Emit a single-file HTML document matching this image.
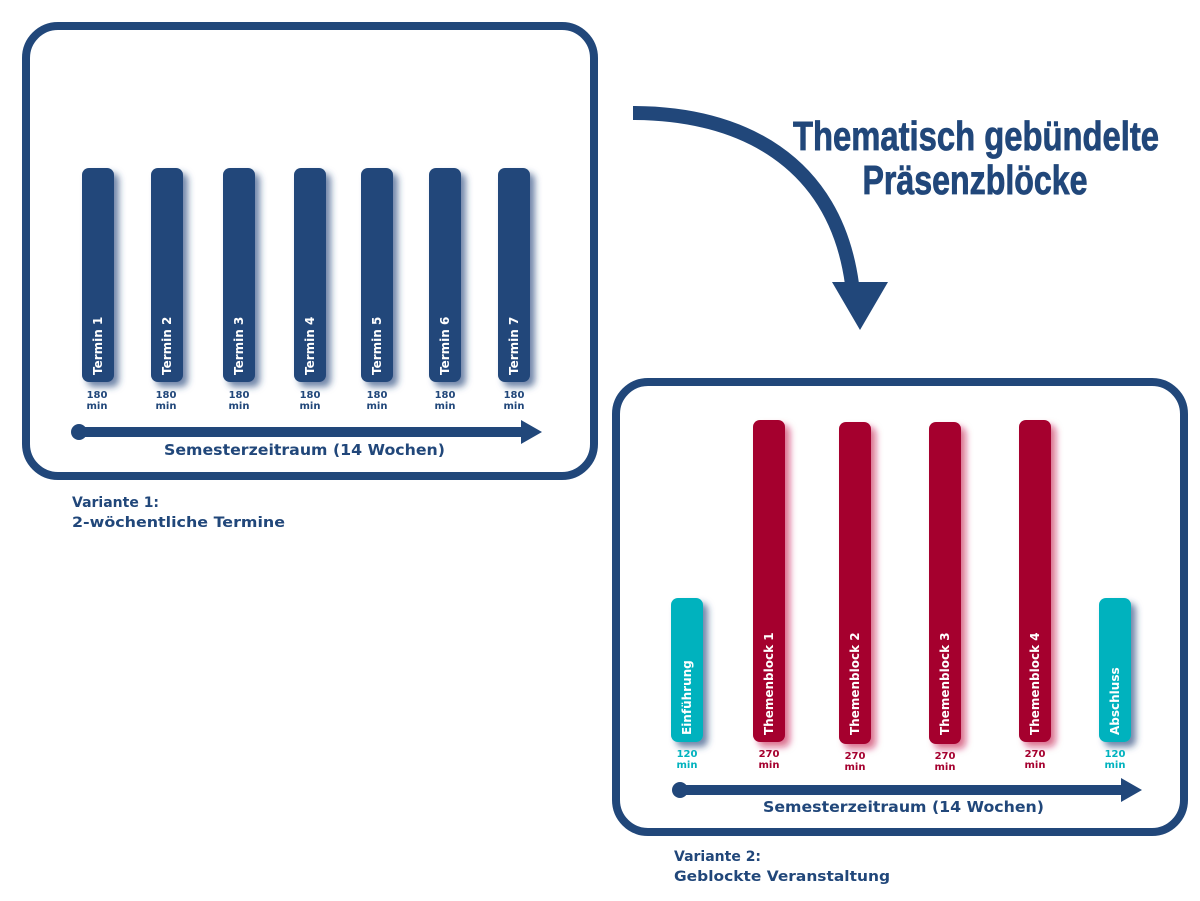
<!DOCTYPE html>
<html><head><meta charset="utf-8"><style>
html,body{margin:0;padding:0;background:#fff;}
svg{display:block;}
text{font-family:"DejaVu Sans","Liberation Sans",sans-serif;font-weight:bold;}
</style></head><body>
<svg width="1200" height="901" viewBox="0 0 1200 901" xmlns="http://www.w3.org/2000/svg">
<defs>
<filter id="sb" x="-60%" y="-10%" width="220%" height="130%">
<feDropShadow dx="5" dy="5" stdDeviation="3.5" flood-color="#21477a" flood-opacity="0.65"/>
</filter>
<filter id="sr" x="-60%" y="-10%" width="220%" height="130%">
<feDropShadow dx="5" dy="5" stdDeviation="3.5" flood-color="#c2154a" flood-opacity="0.6"/>
</filter>
</defs>
<g fill="none" stroke="#21477a" stroke-width="8">
<rect x="26" y="26" width="568" height="450" rx="32"/>
<rect x="616" y="382" width="568" height="450" rx="32"/>
</g>
<g fill="#21477a" filter="url(#sb)">
<rect x="82" y="168" width="32" height="214" rx="7"/>
<rect x="151" y="168" width="32" height="214" rx="7"/>
<rect x="223" y="168" width="32" height="214" rx="7"/>
<rect x="294" y="168" width="32" height="214" rx="7"/>
<rect x="361" y="168" width="32" height="214" rx="7"/>
<rect x="429" y="168" width="32" height="214" rx="7"/>
<rect x="498" y="168" width="32" height="214" rx="7"/>
</g>
<g fill="#fff" font-size="12">
<text transform="translate(102,375) rotate(-90)">Termin 1</text>
<text transform="translate(171,375) rotate(-90)">Termin 2</text>
<text transform="translate(243,375) rotate(-90)">Termin 3</text>
<text transform="translate(314,375) rotate(-90)">Termin 4</text>
<text transform="translate(381,375) rotate(-90)">Termin 5</text>
<text transform="translate(449,375) rotate(-90)">Termin 6</text>
<text transform="translate(518,375) rotate(-90)">Termin 7</text>
</g>
<g fill="#21477a" font-size="10" text-anchor="middle">
<text x="97" y="398">180</text><text x="97" y="409">min</text>
<text x="166" y="398">180</text><text x="166" y="409">min</text>
<text x="239" y="398">180</text><text x="239" y="409">min</text>
<text x="310" y="398">180</text><text x="310" y="409">min</text>
<text x="377" y="398">180</text><text x="377" y="409">min</text>
<text x="445" y="398">180</text><text x="445" y="409">min</text>
<text x="514" y="398">180</text><text x="514" y="409">min</text>
</g>
<g fill="#21477a">
<circle cx="79" cy="432" r="8"/>
<rect x="79" y="427" width="445" height="10"/>
<polygon points="521,420 542,432 521,444"/>
<text x="164" y="455" font-size="15" textLength="281" lengthAdjust="spacingAndGlyphs">Semesterzeitraum (14 Wochen)</text>
<text x="72" y="507" font-size="14">Variante 1:</text>
<text x="72" y="527" font-size="14" textLength="213" lengthAdjust="spacingAndGlyphs">2-wöchentliche Termine</text>
</g>
<path d="M633,113 C740,113 835,160 852,284" fill="none" stroke="#21477a" stroke-width="14"/>
<polygon points="832,282 888,282 860,330" fill="#21477a"/>
<g fill="#21477a" stroke="#21477a" stroke-width="0.8" font-size="41" text-anchor="middle">
<text x="976" y="150" textLength="366" lengthAdjust="spacingAndGlyphs" style="font-family:'Liberation Sans Narrow','Liberation Sans',sans-serif">Thematisch gebündelte</text>
<text x="975" y="194" textLength="225" lengthAdjust="spacingAndGlyphs" style="font-family:'Liberation Sans Narrow','Liberation Sans',sans-serif">Präsenzblöcke</text>
</g>
<g fill="#00b2be" filter="url(#sb)">
<rect x="671" y="598" width="32" height="144" rx="7"/>
<rect x="1099" y="598" width="32" height="144" rx="7"/>
</g>
<g fill="#a5002e" filter="url(#sr)">
<rect x="753" y="420" width="32" height="322" rx="7"/>
<rect x="839" y="422" width="32" height="322" rx="7"/>
<rect x="929" y="422" width="32" height="322" rx="7"/>
<rect x="1019" y="420" width="32" height="322" rx="7"/>
</g>
<g fill="#fff" font-size="12">
<text transform="translate(691,735) rotate(-90)">Einführung</text>
<text transform="translate(773,735) rotate(-90)">Themenblock 1</text>
<text transform="translate(859,735) rotate(-90)">Themenblock 2</text>
<text transform="translate(949,735) rotate(-90)">Themenblock 3</text>
<text transform="translate(1039,735) rotate(-90)">Themenblock 4</text>
<text transform="translate(1119,735) rotate(-90)">Abschluss</text>
</g>
<g font-size="10" text-anchor="middle">
<text x="687" y="757" fill="#00b2be">120</text><text x="687" y="768" fill="#00b2be">min</text>
<text x="769" y="757" fill="#a5002e">270</text><text x="769" y="768" fill="#a5002e">min</text>
<text x="855" y="759" fill="#a5002e">270</text><text x="855" y="770" fill="#a5002e">min</text>
<text x="945" y="759" fill="#a5002e">270</text><text x="945" y="770" fill="#a5002e">min</text>
<text x="1035" y="757" fill="#a5002e">270</text><text x="1035" y="768" fill="#a5002e">min</text>
<text x="1115" y="757" fill="#00b2be">120</text><text x="1115" y="768" fill="#00b2be">min</text>
</g>
<g fill="#21477a">
<circle cx="680" cy="790" r="8"/>
<rect x="680" y="785" width="444" height="10"/>
<polygon points="1121,778 1142,790 1121,802" />
<text x="763" y="812" font-size="15" textLength="281" lengthAdjust="spacingAndGlyphs">Semesterzeitraum (14 Wochen)</text>
<text x="674" y="861" font-size="14">Variante 2:</text>
<text x="674" y="881" font-size="14" textLength="216" lengthAdjust="spacingAndGlyphs">Geblockte Veranstaltung</text>
</g>
</svg>
</body></html>
